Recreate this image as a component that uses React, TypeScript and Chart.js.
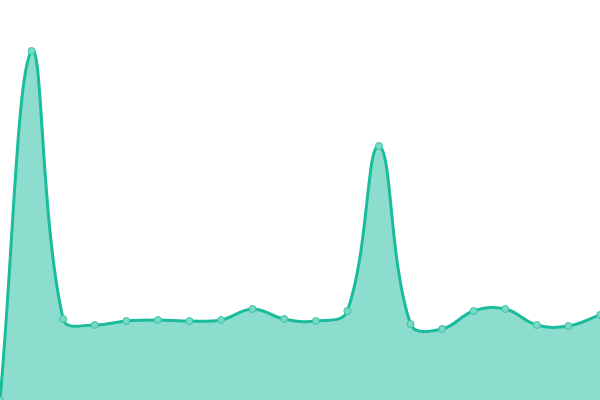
import React, { useEffect, useRef } from "react";
import { Chart, registerables } from "chart.js";

Chart.register(...registerables);

const labels = ["1","2","3","4","5","6","7","8","9","10","11","12","13","14","15","16","17","18","19","20"];
const values = [0, 349, 81, 75, 79, 80, 79, 80, 91, 81, 79, 89, 254, 76, 71, 89, 91, 75, 74, 85];
const yMin = 0;
const yMax = 400;

export default function App() {
  const ref = useRef<HTMLCanvasElement>(null);
  useEffect(() => {
    document.body.style.margin = "0";
    const chart = new Chart(ref.current!, {
      type: "line",
      data: {
        labels,
        datasets: [
          {
            data: values,
            borderColor: "#1abc9c",
            backgroundColor: "rgba(26,188,156,0.5)",
            borderWidth: 3,
            fill: true,
            tension: 0.4,
            pointRadius: 3.5,
            pointBackgroundColor: "#78d9c5",
            pointBorderColor: "#3cc4a8",
            pointBorderWidth: 1,
          },
        ],
      },
      options: {
        animation: false,
        responsive: false,
        maintainAspectRatio: false,
        layout: { padding: 0, autoPadding: false },
        plugins: { legend: { display: false }, tooltip: { enabled: false } },
        scales: {
          x: { display: false, offset: false },
          y: { display: false, min: yMin, max: yMax },
        },
      },
    });
    return () => chart.destroy();
  }, []);
  return (
    <div style={{ position: "fixed", left: 0, top: 0, width: 600, height: 400 }}>
      <canvas ref={ref} width={600} height={400} style={{ width: 600, height: 400 }} />
    </div>
  );
}
